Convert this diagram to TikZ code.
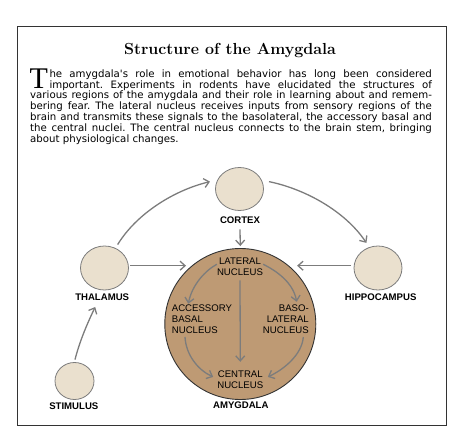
\documentclass[tikz,border=0pt]{standalone}
\usepackage{fontspec}
\setsansfont{Liberation Sans}
\newfontfamily\bodyfont{DejaVu Sans}
\newfontfamily\capfont{Liberation Serif}
\usetikzlibrary{arrows.meta,shapes.geometric}
\definecolor{beigefill}{HTML}{EAE0CE}
\definecolor{amygfill}{HTML}{BE9A74}
\definecolor{arrowgray}{HTML}{7C7C7C}
\definecolor{framegray}{HTML}{333333}
\newcommand\linesC[1]{\vtop{\halign{\hfil##\hfil\cr#1\crcr}}}
\newcommand\linesL[1]{\vtop{\halign{##\hfil\cr#1\crcr}}}
\newcommand\linesR[1]{\vtop{\halign{\hfil##\cr#1\crcr}}}
\newcommand\dropcapT{\llap{\smash{\lower 11pt\hbox{\capfont\fontsize{30}{30}\selectfont T}}\hskip 1.5pt}}
\begin{document}
\begin{tikzpicture}[x=1pt,y=-1pt,
  region/.style={ellipse, draw=arrowgray, line width=0.8pt, fill=beigefill, inner sep=0pt},
  lbl/.style={inner sep=0pt, anchor=base, font=\sffamily\bfseries\fontsize{9.6}{11}\selectfont},
  inlbl/.style={inner sep=0pt, font=\sffamily\fontsize{9.6}{11}\selectfont},
  bodytext/.style={anchor=base west, inner sep=0pt, font=\bodyfont\fontsize{10.2}{10.85}\selectfont\frenchspacing},
  arr/.style={draw=arrowgray, line width=1.3pt, -{Straight Barb[length=5pt,width=9pt]}}]
\useasboundingbox (0,0) rectangle (462,435);
\draw[framegray, line width=1.2pt] (17.5,26.5) rectangle (446.5,425.5);
\node[anchor=base, inner sep=0pt, font=\fontsize{16}{18}\selectfont\bfseries] (title) at (230,54.3) {Structure of the Amygdala};
\node[bodytext] (bodyA) at (49.3,77.3) {\parbox[t]{382.4pt}{\bodyfont\fontsize{10.2}{10.85}\selectfont\frenchspacing
\hbox to 382.4pt{\dropcapT he amygdala\textquotesingle s role in emotional behavior has long been considered}
\hbox to 382.4pt{important. Experiments in rodents have elucidated the structures of}}};
\node[bodytext] (bodyB) at (30,99) {\parbox[t]{401.7pt}{\bodyfont\fontsize{10.2}{10.85}\selectfont\frenchspacing
\hbox to 401.7pt{various regions of the amygdala and their role in learning about and remem-}
\hbox to 401.7pt{bering fear. The lateral nucleus receives inputs from sensory regions of the}
\hbox to 401.7pt{brain and transmits these signals to the basolateral, the accessory basal and}
\hbox to 401.7pt{the central nuclei. The central nucleus connects to the brain stem, bringing}
\hbox{about physiological changes.}}};
% regions
\node[region, minimum width=48pt, minimum height=43pt] (cortex) at (239.5,189) {};
\node[region, minimum width=48pt, minimum height=44pt] (thal) at (104.5,268) {};
\node[region, minimum width=48pt, minimum height=44pt] (hippo) at (378,268) {};
\node[region, minimum width=39pt, minimum height=37pt] (stim) at (74.5,381) {};
\node[circle, draw=framegray, line width=0.9pt, fill=amygfill, minimum size=151pt, inner sep=0pt] (amyg) at (240.3,324) {};
% labels
\node[lbl] (cortexlbl) at (240,223.5) {CORTEX};
\node[lbl] (thallbl) at (102.2,300.7) {THALAMUS};
\node[lbl] (hippolbl) at (380.7,300.7) {HIPPOCAMPUS};
\node[lbl] (stimlbl) at (73.8,409) {STIMULUS};
\node[lbl] (amyglbl) at (240.8,408.3) {AMYGDALA};
% inner labels
\node[inlbl, anchor=base] (lateral) at (240,264) {\linesC{LATERAL\cr NUCLEUS}};
\node[inlbl, anchor=base west] (access) at (171.7,311.7) {\linesL{ACCESSORY\cr BASAL\cr NUCLEUS}};
\node[inlbl, anchor=base east] (baso) at (309,311.7) {\linesR{BASO-\cr LATERAL\cr NUCLEUS}};
\node[inlbl, anchor=base] (central) at (240.3,377.7) {\linesC{CENTRAL\cr NUCLEUS}};
% outer connectors
\draw[arr, shorten >=2pt] ([yshift=-5.5pt]cortexlbl.south) -- (amyg.north);
\draw[arr, shorten <=1.5pt, shorten >=6.5pt] ([yshift=2.3pt]thal.east) -- ([yshift=2.3pt]thal.east -| amyg.129.5);
\draw[arr, shorten <=2.5pt, shorten >=8pt] ([yshift=2.3pt]hippo.west) -- ([yshift=2.3pt]hippo.west -| amyg.50.5);
\draw[arr] ([xshift=1pt,yshift=4pt]thal.58) .. controls (137,213) and (175,190) .. ([xshift=-6pt,yshift=1.5pt]cortex.166);
\draw[arr] ([xshift=6pt,yshift=1.5pt]cortex.14) .. controls (305,189) and (345,211) .. ([xshift=-2pt,yshift=4.5pt]hippo.115);
\draw[arr] ([xshift=0.5pt,yshift=2.5pt]stim.north) .. controls (80,340) and (88,322) .. ([xshift=-7pt,yshift=-6pt]thallbl.south);
% inner connectors
\draw[arr] ([yshift=2pt]lateral.west) .. controls (205,270.7) and (192,285) .. ([xshift=16.6pt,yshift=1pt]access.north west);
\draw[arr] ([yshift=2pt]lateral.east) .. controls (276,270.7) and (293,282) .. ([xshift=-12.3pt,yshift=3pt]baso.north east);
\draw[arr, shorten <=5pt, shorten >=9pt] (lateral.south) -- (central.north);
\draw[arr] ([xshift=13.3pt,yshift=-3pt]access.south west) .. controls (186,355) and (198,370) .. ([xshift=-4pt,yshift=3pt]central.west);
\draw[arr] ([xshift=-5.7pt,yshift=-3pt]baso.south east) .. controls (302,355) and (283,370) .. ([xshift=4.4pt,yshift=3pt]central.east);
\end{tikzpicture}
\end{document}
